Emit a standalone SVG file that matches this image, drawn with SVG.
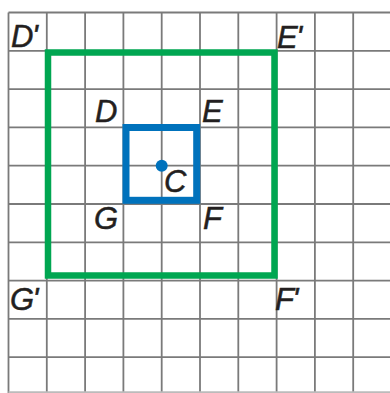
<svg xmlns="http://www.w3.org/2000/svg" width="390" height="393" viewBox="0 0 390 393">
<style>
.grid line{stroke:#7a7a7a;stroke-width:1.8}
.lbl{font-family:"Liberation Sans",Arial,sans-serif;font-style:italic;font-size:31px;fill:#231f20;stroke:#231f20;stroke-width:0.5;letter-spacing:-1.5px}
</style>
<rect width="390" height="393" fill="#fff"/>
<g id="grid" class="grid">
<line x1="8.5" y1="12.5" x2="8.5" y2="393"/>
<line x1="46.8" y1="12.5" x2="46.8" y2="393"/>
<line x1="85.1" y1="12.5" x2="85.1" y2="393"/>
<line x1="123.4" y1="12.5" x2="123.4" y2="393"/>
<line x1="161.7" y1="12.5" x2="161.7" y2="393"/>
<line x1="200" y1="12.5" x2="200" y2="393"/>
<line x1="238.3" y1="12.5" x2="238.3" y2="393"/>
<line x1="276.6" y1="12.5" x2="276.6" y2="393"/>
<line x1="314.9" y1="12.5" x2="314.9" y2="393"/>
<line x1="353.2" y1="12.5" x2="353.2" y2="393"/>
<line x1="8.5" y1="12.5" x2="390" y2="12.5"/>
<line x1="8.5" y1="50.8" x2="390" y2="50.8"/>
<line x1="8.5" y1="89.1" x2="390" y2="89.1"/>
<line x1="8.5" y1="127.4" x2="390" y2="127.4"/>
<line x1="8.5" y1="165.7" x2="390" y2="165.7"/>
<line x1="8.5" y1="204" x2="390" y2="204"/>
<line x1="8.5" y1="242.3" x2="390" y2="242.3"/>
<line x1="8.5" y1="280.6" x2="390" y2="280.6"/>
<line x1="8.5" y1="318.9" x2="390" y2="318.9"/>
<line x1="8.5" y1="357.2" x2="390" y2="357.2"/>
<line x1="8.5" y1="392.2" x2="390" y2="392.2" style="stroke:#bbb"/>
</g>
<g id="image-square">
<rect x="48" y="52.5" width="226.5" height="223" fill="none" stroke="#00a651" stroke-width="6.5"/>
</g>
<g id="original-square">
<rect x="126" y="127.5" width="70.7" height="72.8" fill="none" stroke="#0072bc" stroke-width="7"/>
</g>
<g id="center">
<circle cx="161.7" cy="165.7" r="6" fill="#0072bc"/>
</g>
<g id="labels">
<text class="lbl" x="11" y="46.5">D'</text>
<text class="lbl" x="277" y="47.5">E'</text>
<text class="lbl" x="10" y="310">G'</text>
<text class="lbl" x="275" y="310">F'</text>
<text class="lbl" x="95" y="121.7">D</text>
<text class="lbl" x="202" y="122">E</text>
<text class="lbl" x="94" y="229">G</text>
<text class="lbl" x="203" y="229">F</text>
<text class="lbl" x="164" y="192">C</text>
</g>
</svg>
